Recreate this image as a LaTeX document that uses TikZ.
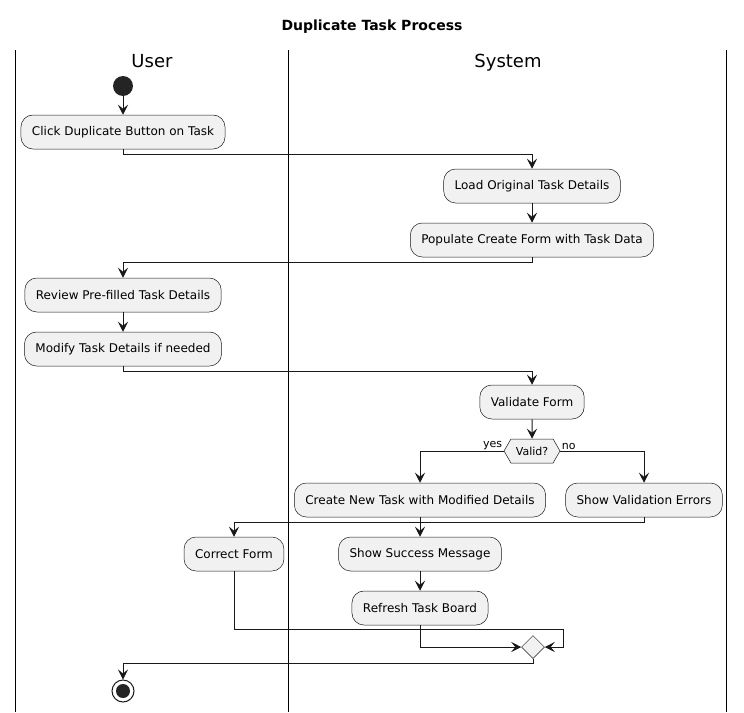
\documentclass[tikz,border=0pt]{standalone}
\usepackage{fontspec}
\setmainfont{DejaVu Sans}
\usepackage{xcolor}
\usetikzlibrary{arrows.meta,shapes.geometric,shapes.symbols}
\definecolor{boxfill}{HTML}{F1F1F1}
\definecolor{ink}{HTML}{181818}
\begin{document}
\begin{tikzpicture}[x=1pt,y={(0,-1pt)},
    act/.style={draw=ink,line width=0.5pt,fill=boxfill,rounded corners=12pt,minimum height=34pt,inner xsep=11pt,font=\fontsize{12}{14}\selectfont},
    flow/.style={draw=ink,line width=1pt,-{Stealth[length=10pt,width=10pt,inset=4pt]}},
    lane/.style={draw=black,line width=1pt},
    guard/.style={inner sep=1pt,font=\fontsize{11}{13}\selectfont}]
    \useasboundingbox (0,0) rectangle (744,712);
    \node [font=\bfseries\fontsize{14}{16}\selectfont] (title) at (372,27) {Duplicate Task Process};
    \draw [lane] (15,50) -- (15,712);
    \draw [lane] (288,50) -- (288,712);
    \draw [lane] (726,50) -- (726,712);
    \node [anchor=base,font=\fontsize{18}{20}\selectfont] (user) at (152,67) {User};
    \node [anchor=base,font=\fontsize{18}{20}\selectfont] (system) at (508,67) {System};
    \node [circle,fill=ink!95!white,minimum size=20pt,inner sep=0pt] (start) at (123,86) {};
    \node [act] (click) at (123,132) {Click Duplicate Button on Task};
    \node [act] (load) at (532,186) {Load Original Task Details};
    \node [act] (populate) at (532,240) {Populate Create Form with Task Data};
    \node [act] (review) at (123,295) {Review Pre-filled Task Details};
    \node [act] (modify) at (123,349) {Modify Task Details if needed};
    \node [act] (validate) at (532,402) {Validate Form};
    \node [signal,signal to=east and west,signal pointer angle=120,draw=ink,line width=0.5pt,fill=boxfill,minimum height=24pt,minimum width=56pt,inner sep=1pt,font=\fontsize{11}{13}\selectfont] (valid) at (532,451) {Valid?};
    \node [act] (create) at (420,500) {Create New Task with Modified Details};
    \node [act] (errors) at (644,500) {Show Validation Errors};
    \node [act] (correct) at (234,554) {Correct Form};
    \node [act] (success) at (420,554) {Show Success Message};
    \node [act] (refresh) at (420,608) {Refresh Task Board};
    \node [diamond,draw=ink,line width=0.5pt,fill=boxfill,minimum size=23pt,inner sep=0pt] (merge) at (533,647) {};
    \node [circle,draw=ink,line width=1pt,minimum size=22pt,inner sep=0pt] (stop) at (123,691) {};
    \node [circle,fill=ink!95!white,minimum size=14pt,inner sep=0pt] at (stop) {};
    \coordinate (bend) at (563,629);
    \draw [flow] (start) -- (click);
    \draw [flow] (click.south) -- ++(0,5) -| (load.north);
    \draw [flow] (load) -- (populate);
    \draw [flow] (populate.south) -- ++(0,5) -| (review.north);
    \draw [flow] (review) -- (modify);
    \draw [flow] (modify.south) -- ++(0,5) -| (validate.north);
    \draw [flow] (validate) -- (valid);
    \draw [flow] (valid.west) -| node [guard, anchor=south east, pos=0]{yes} (create.north);
    \draw [flow] (valid.east) -| node [guard, anchor=south west, pos=0]{no} (errors.north);
    \draw [flow] (create) -- (success);
    \draw [flow] (errors.south) -- ++(0,5) -| (correct.north);
    \draw [flow] (success) -- (refresh);
    \draw [flow] (correct.south) |- (bend) |- (merge.east);
    \draw [flow] (refresh.south) |- (merge.west);
    \draw [flow] (merge.south) -- ++(0,5) -| (stop.north);
\end{tikzpicture}
\end{document}
